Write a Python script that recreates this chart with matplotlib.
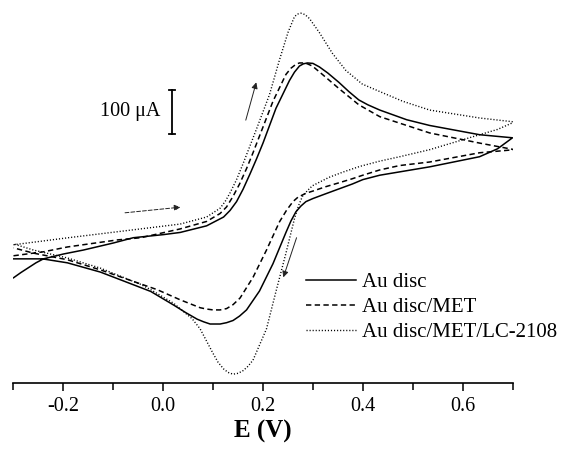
import matplotlib
matplotlib.use('Agg')
from matplotlib import pyplot as plt

plt.rcParams['font.family'] = ['Liberation Serif', 'DejaVu Serif']
plt.rcParams['axes.unicode_minus'] = False

# cyclic voltammograms, potential in V, current in uA (arbitrary zero)
# Au disc
au_fwd_E = [-0.30, -0.285, -0.27, -0.255, -0.24, -0.20, -0.16, -0.10, -0.06, 0.00, 0.034, 0.087, 0.121, 0.134,
            0.147, 0.160, 0.174, 0.187, 0.200, 0.226, 0.253, 0.263, 0.273, 0.281, 0.289, 0.300, 0.313,
            0.330, 0.352, 0.372, 0.392, 0.41, 0.434, 0.488, 0.534, 0.634, 0.70]
au_fwd_I = [239, 251, 262, 273, 282, 293, 302, 318, 330, 337, 342, 357, 377, 392,
            412, 440, 475, 509, 545, 624, 687, 706, 720, 725, 727, 726, 718,
            704, 683, 662, 643, 632, 620, 598, 585, 564, 557]
au_rev_E = [0.70, 0.67, 0.634, 0.534, 0.434, 0.40, 0.379, 0.35, 0.326, 0.30, 0.286, 0.276, 0.266, 0.256,
            0.246, 0.220, 0.193, 0.167, 0.153, 0.140, 0.127, 0.114, 0.094, 0.081, 0.068, 0.045, 0.021,
            -0.025, -0.08, -0.126, -0.192, -0.242, -0.30]
au_rev_I = [557, 532, 514, 491, 472, 462, 452, 440, 430, 419, 412, 402, 389, 368,
            342, 271, 209, 166, 152, 142, 137, 134, 134, 139, 145, 160, 177,
            208, 232, 252, 273, 282, 282]

# Au disc/MET
met_fwd_E = [-0.30, -0.24, -0.192, -0.092, -0.045, 0.034, 0.087, 0.114, 0.127, 0.140, 0.153, 0.167, 0.180,
             0.193, 0.220, 0.246, 0.256, 0.266, 0.273, 0.279, 0.289, 0.299, 0.320, 0.352, 0.392, 0.434,
             0.534, 0.634, 0.704]
met_fwd_I = [289, 298, 309, 325, 330, 350, 367, 385, 400, 424, 452, 487, 523,
             561, 640, 701, 715, 724, 727, 727, 725, 720, 700, 669, 632, 605,
             568, 545, 530]
met_rev_E = [0.704, 0.634, 0.534, 0.474, 0.434, 0.40, 0.379, 0.35, 0.326, 0.30, 0.286, 0.270, 0.260, 0.247,
             0.233, 0.207, 0.180, 0.154, 0.140, 0.127, 0.114, 0.100, 0.087, 0.074, 0.034, -0.012, -0.045,
             -0.126, -0.192, -0.26, -0.30]
met_rev_I = [530, 523, 502, 494, 484, 472, 464, 454, 446, 436, 431, 422, 412, 392,
             366, 302, 240, 193, 178, 169, 166, 166, 168, 171, 189, 212, 225,
             257, 280, 295, 307]

# Au disc/MET/LC-2108
lc_fwd_E = [-0.30, -0.19, -0.06, 0.034, 0.087, 0.114, 0.124, 0.134, 0.147, 0.160, 0.187, 0.213, 0.233, 0.250,
            0.263, 0.269, 0.276, 0.284, 0.293, 0.313, 0.339, 0.366, 0.399, 0.434, 0.48, 0.534, 0.634,
            0.704]
lc_fwd_I = [314, 330, 348, 361, 377, 397, 412, 432, 462, 498, 577, 655, 734, 796,
            832, 838, 840, 837, 828, 796, 749, 710, 679, 662, 640, 620, 602,
            593]
lc_rev_E = [0.704, 0.67, 0.634, 0.534, 0.474, 0.434, 0.394, 0.36, 0.332, 0.299, 0.289, 0.279, 0.271, 0.263,
            0.246, 0.226, 0.207, 0.180, 0.170, 0.160, 0.150, 0.140, 0.130, 0.121, 0.110, 0.100, 0.087,
            0.074, 0.058, 0.021, -0.025, -0.045, -0.126, -0.192, -0.26, -0.30]
lc_rev_I = [593, 576, 564, 530, 514, 504, 492, 479, 467, 448, 437, 424, 402, 373,
            295, 208, 123, 52, 38, 28, 22, 20, 24, 32, 47, 67, 95,
            123, 146, 181, 212, 224, 261, 284, 302, 316]

labels = ['Au disc', 'Au disc/MET', 'Au disc/MET/LC-2108']
major_ticks = [-0.2, 0.0, 0.2, 0.4, 0.6]
tick_labels = ['-0.2', '0.0', '0.2', '0.4', '0.6']
minor_ticks = [-0.3, -0.1, 0.1, 0.3, 0.5, 0.7]

fig = plt.figure(figsize=(5.66, 4.5), dpi=100)
ax = fig.add_axes([13 / 566, 67 / 450, 500 / 566, 383 / 450])

ax.plot(au_fwd_E + au_rev_E, au_fwd_I + au_rev_I, color='black', lw=1.1, label=labels[0])
ax.plot(met_fwd_E + met_rev_E, met_fwd_I + met_rev_I, color='black', lw=1.1,
        dashes=(3.5, 2.2), label=labels[1])
ax.plot(lc_fwd_E + lc_rev_E, lc_fwd_I + lc_rev_I, color='black', lw=1.0,
        dashes=(0.8, 1.4), label=labels[2])

ax.set_xlim(-0.301, 0.701)
ax.set_ylim(0, 870)

for s in ['left', 'right', 'top']:
    ax.spines[s].set_visible(False)
ax.spines['bottom'].set_linewidth(1.2)
ax.set_yticks([])
ax.set_xticks(major_ticks)
ax.set_xticklabels(tick_labels)
ax.set_xticks(minor_ticks, minor=True)
ax.tick_params(axis='x', which='both', direction='out', width=1.1, labelsize=14.5)
ax.tick_params(axis='x', which='major', length=6, pad=4)
ax.tick_params(axis='x', which='minor', length=5)
ax.set_xlabel('E (V)', fontsize=18, fontweight='bold', labelpad=3)

# scale bar
ax.plot([0.018, 0.018], [566, 666], color='black', lw=1.3)
ax.plot([0.012, 0.024], [566, 566], color='black', lw=1.3)
ax.plot([0.012, 0.024], [666, 666], color='black', lw=1.3)
ax.text(-0.005, 616, '100 μA', fontsize=14.5, ha='right', va='center')

# scan direction arrows
ax.annotate('', xy=(0.04, 400), xytext=(-0.082, 386),
            arrowprops=dict(arrowstyle='-|>', lw=0.7, ls=(0, (4, 2)), color='#222222', mutation_scale=9))
ax.annotate('', xy=(0.188, 689), xytext=(0.164, 591),
            arrowprops=dict(arrowstyle='-|>', lw=0.7, color='#222222', mutation_scale=9))
ax.annotate('', xy=(0.239, 234), xytext=(0.269, 336),
            arrowprops=dict(arrowstyle='-|>', lw=0.7, color='#222222', mutation_scale=9))

ax.legend(loc='upper left', bbox_to_anchor=(0.585, 0.288), frameon=False, fontsize=15,
          handlelength=2.4, handletextpad=0.3, labelspacing=0.26, borderpad=0, borderaxespad=0)

fig.savefig('out.png', dpi=100)
